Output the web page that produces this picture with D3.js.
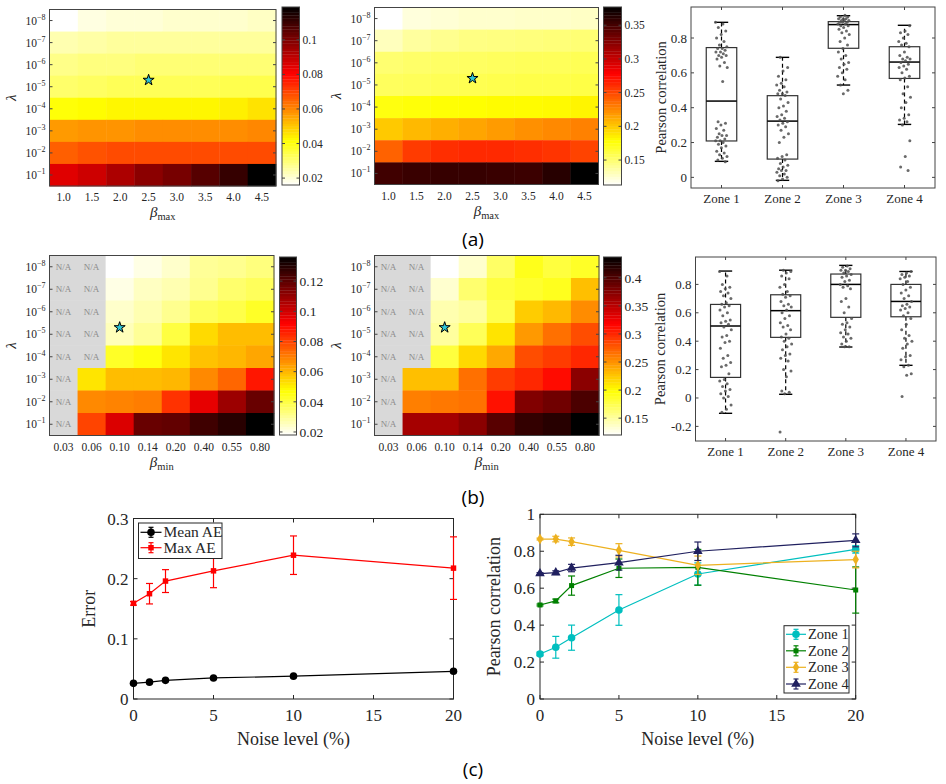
<!DOCTYPE html>
<html><head><meta charset="utf-8">
<script src="https://cdn.jsdelivr.net/npm/d3@7"></script>
<style>
body{margin:0;background:#fff}
svg{display:block}
text{font-family:"Liberation Serif","DejaVu Serif",serif;fill:#262626}
</style>
</head><body>
<svg id="c" width="946" height="784"></svg>
<script>
// ---------------- DATA ----------------
const lambdaExp = [-8,-7,-6,-5,-4,-3,-2,-1];
const betaMax = ["1.0","1.5","2.0","2.5","3.0","3.5","4.0","4.5"];
const betaMin = ["0.03","0.06","0.10","0.14","0.20","0.40","0.55","0.80"];
const starLambda = 5e-6;
const starBetaMax = "2.5";
const starBetaMin = "0.10";

const heatA1 = [
 [0.016,0.019,0.020,0.020,0.021,0.021,0.021,0.022],
 [0.024,0.025,0.026,0.026,0.026,0.026,0.026,0.026],
 [0.028,0.029,0.029,0.030,0.030,0.030,0.030,0.030],
 [0.031,0.032,0.033,0.033,0.033,0.033,0.034,0.034],
 [0.041,0.042,0.043,0.043,0.043,0.043,0.044,0.046],
 [0.057,0.058,0.058,0.059,0.059,0.059,0.059,0.060],
 [0.066,0.068,0.069,0.069,0.069,0.069,0.069,0.069],
 [0.085,0.088,0.093,0.098,0.101,0.106,0.111,0.119]];
const heatA2 = [
 [0.113,0.122,0.124,0.126,0.126,0.127,0.127,0.128],
 [0.130,0.138,0.142,0.145,0.146,0.147,0.148,0.149],
 [0.150,0.152,0.153,0.154,0.155,0.156,0.156,0.157],
 [0.155,0.156,0.157,0.158,0.159,0.160,0.160,0.161],
 [0.175,0.177,0.178,0.179,0.180,0.180,0.181,0.183],
 [0.200,0.206,0.210,0.214,0.218,0.222,0.225,0.228],
 [0.240,0.255,0.260,0.262,0.262,0.260,0.258,0.252],
 [0.352,0.355,0.356,0.356,0.355,0.354,0.362,0.377]];
const heatB1 = [
 [null,null,0.018,0.021,0.024,0.030,0.031,0.033],
 [null,null,0.021,0.025,0.027,0.031,0.035,0.037],
 [null,null,0.024,0.027,0.031,0.037,0.039,0.043],
 [null,null,0.026,0.030,0.040,0.054,0.059,0.059],
 [null,null,0.043,0.046,0.052,0.058,0.060,0.063],
 [null,0.052,0.059,0.059,0.060,0.068,0.074,0.088],
 [null,0.068,0.069,0.070,0.083,0.096,0.109,0.118],
 [null,0.080,0.098,0.118,0.119,0.125,0.129,0.136]];
const heatB2 = [
 [null,null,0.120,0.136,0.168,0.191,0.180,0.187],
 [null,null,0.135,0.165,0.180,0.185,0.190,0.229],
 [null,null,0.145,0.150,0.175,0.223,0.232,0.253],
 [null,null,0.150,0.172,0.212,0.247,0.266,0.282],
 [null,null,0.180,0.217,0.240,0.282,0.290,0.300],
 [null,0.229,0.229,0.266,0.290,0.300,0.313,0.372],
 [null,0.259,0.262,0.265,0.310,0.377,0.385,0.402],
 [null,0.360,0.360,0.372,0.396,0.413,0.419,0.437]];
const cbarA1Domain = [0.016,0.119], cbarA1Ticks = [0.02,0.04,0.06,0.08,0.1];
const cbarA2Domain = [0.113,0.377], cbarA2Ticks = [0.15,0.2,0.25,0.3,0.35];
const cbarB1Domain = [0.018,0.136], cbarB1Ticks = [0.02,0.04,0.06,0.08,0.1,0.12];
const cbarB2Domain = [0.120,0.437], cbarB2Ticks = [0.15,0.2,0.25,0.3,0.35,0.4];

const zones = ["Zone 1","Zone 2","Zone 3","Zone 4"];
const statsA = [[0.092,0.209,0.438,0.745,0.890],[-0.017,0.105,0.323,0.469,0.689],[0.530,0.741,0.877,0.894,0.928],[0.304,0.568,0.662,0.750,0.873]];
const statsB = [[-0.108,0.145,0.507,0.659,0.894],[0.026,0.427,0.615,0.727,0.900],[0.359,0.568,0.800,0.873,0.934],[0.230,0.572,0.680,0.800,0.891]];
const ptsA1 = [0.89,0.88,0.86,0.84,0.82,0.80,0.78,0.76,0.75,0.74,0.74,0.73,0.72,0.72,0.71,0.70,0.70,0.69,0.68,0.66,0.64,0.63,0.55,0.32,0.31,0.30,0.28,0.27,0.25,0.24,0.24,0.23,0.22,0.21,0.21,0.20,0.19,0.18,0.17,0.15,0.14,0.13,0.12,0.11,0.10,0.09];
const ptsA2 = [0.69,0.63,0.61,0.58,0.56,0.54,0.53,0.52,0.50,0.49,0.48,0.48,0.47,0.45,0.43,0.41,0.40,0.38,0.36,0.35,0.34,0.33,0.32,0.31,0.30,0.29,0.27,0.25,0.23,0.20,0.13,0.12,0.11,0.10,0.08,0.07,0.06,0.05,0.04,0.04,0.03,0.02,0.01,0.00,-0.01,-0.02];
const ptsA3 = [0.93,0.92,0.92,0.91,0.91,0.91,0.90,0.90,0.90,0.89,0.89,0.89,0.88,0.88,0.87,0.87,0.86,0.85,0.84,0.83,0.82,0.80,0.78,0.76,0.74,0.72,0.70,0.68,0.66,0.65,0.63,0.62,0.60,0.58,0.56,0.53,0.50,0.48];
const ptsA4 = [0.87,0.84,0.83,0.82,0.80,0.78,0.77,0.76,0.75,0.72,0.70,0.69,0.68,0.68,0.67,0.66,0.65,0.64,0.63,0.62,0.60,0.58,0.57,0.56,0.52,0.48,0.46,0.43,0.40,0.36,0.34,0.33,0.32,0.30,0.21,0.12,0.06,0.04];
const ptsB1 = [0.89,0.86,0.80,0.78,0.77,0.75,0.74,0.72,0.70,0.67,0.66,0.65,0.64,0.62,0.60,0.58,0.55,0.54,0.53,0.52,0.50,0.48,0.44,0.43,0.40,0.39,0.35,0.30,0.28,0.25,0.23,0.22,0.17,0.13,0.12,0.10,0.08,0.06,0.05,0.03,0.01,0.00,-0.05,-0.08,-0.10];
const ptsB2 = [0.90,0.89,0.88,0.86,0.84,0.80,0.78,0.75,0.73,0.72,0.71,0.68,0.66,0.65,0.64,0.62,0.60,0.58,0.56,0.53,0.51,0.50,0.48,0.45,0.43,0.42,0.40,0.38,0.36,0.34,0.31,0.30,0.28,0.26,0.20,0.19,0.15,0.05,0.04,0.03,-0.24];
const ptsB3 = [0.93,0.92,0.91,0.90,0.90,0.89,0.88,0.87,0.86,0.85,0.83,0.82,0.80,0.79,0.78,0.77,0.70,0.68,0.64,0.60,0.56,0.53,0.52,0.50,0.48,0.46,0.45,0.43,0.42,0.40,0.38,0.36,0.36];
const ptsB4 = [0.89,0.88,0.87,0.86,0.85,0.84,0.82,0.80,0.78,0.76,0.74,0.72,0.70,0.68,0.66,0.65,0.64,0.63,0.62,0.60,0.58,0.56,0.52,0.48,0.44,0.42,0.40,0.38,0.35,0.30,0.29,0.27,0.23,0.22,0.17,0.16,0.01];
const boxTicksA = [0,0.2,0.4,0.6,0.8];
const boxTicksB = [-0.2,0,0.2,0.4,0.6,0.8];

const noise = [0,1,2,5,10,20];
const noiseTicks = [0,5,10,15,20];
const meanAE = [0.026,0.028,0.031,0.035,0.038,0.046];
const meanAEErr = [0.001,0.001,0.001,0.001,0.001,0.002];
const maxAE = [0.159,0.175,0.196,0.213,0.239,0.2175];
const maxAEErr = [0.003,0.017,0.019,0.028,0.032,0.052];
const errTicks = [0,0.1,0.2,0.3];
const corrZ1 = [0.244,0.280,0.332,0.482,0.677,0.810], errZ1 = [0.010,0.059,0.068,0.083,0.060,0.020];
const corrZ2 = [0.509,0.531,0.614,0.708,0.713,0.590], errZ2 = [0.005,0.010,0.052,0.050,0.097,0.125];
const corrZ3 = [0.866,0.866,0.852,0.805,0.724,0.755], errZ3 = [0.005,0.015,0.020,0.036,0.050,0.045];
const corrZ4 = [0.679,0.684,0.709,0.738,0.800,0.859], errZ4 = [0.005,0.010,0.020,0.040,0.050,0.035];
const corrTicks = [0,0.2,0.4,0.6,0.8,1];

// ---------------- HELPERS ----------------
const svg = d3.select("#c");
const FRAME = "#444";
function hot(f){
  const hh = 1 - Math.max(0, Math.min(1, f));
  const r = Math.min(1, hh/0.375);
  const g = Math.max(0, Math.min(1, (hh-0.375)/0.375));
  const b = Math.max(0, Math.min(1, (hh-0.75)/0.25));
  return "rgb(" + Math.round(r*255) + "," + Math.round(g*255) + "," + Math.round(b*255) + ")";
}
function fmt(v){ return (Math.round(v*1000)/1000).toString(); }
function ln(g,x1,y1,x2,y2,col,w,dash){
  const l = g.append("line").attr("x1",x1).attr("y1",y1).attr("x2",x2).attr("y2",y2)
    .attr("stroke",col).attr("stroke-width",w||1);
  if(dash) l.attr("stroke-dasharray",dash);
  return l;
}

function heatmap(o){
  const g = svg.append("g");
  const x = d3.scaleBand().domain(o.cols).range([o.x0,o.x1]);
  const y = d3.scaleLinear().domain([-8.5,-0.5]).range([o.y0,o.y1]);
  const c = d3.scaleLinear().domain(o.domain).range([0,1]).clamp(true);
  const cells = [];
  o.values.forEach(function(row,ri){ row.forEach(function(v,ci){ cells.push({e:lambdaExp[ri], b:o.cols[ci], v:v}); }); });
  g.selectAll("rect.cell").data(cells).join("rect")
    .attr("x",function(p){return x(p.b);}).attr("width",x.bandwidth()+0.4)
    .attr("y",function(p){return y(p.e-0.5);}).attr("height",function(p){return y(p.e+0.5)-y(p.e-0.5)+0.4;})
    .attr("fill",function(p){return p.v==null?"#d9d9d9":hot(c(p.v));});
  g.selectAll("text.na").data(cells.filter(function(p){return p.v==null;})).join("text")
    .attr("x",function(p){return x(p.b)+x.bandwidth()/2;}).attr("y",function(p){return y(p.e)+3;})
    .attr("text-anchor","middle").attr("font-size",9).style("fill","#8a8a8a").text("N/A");
  g.append("rect").attr("x",o.x0).attr("y",o.y0).attr("width",o.x1-o.x0).attr("height",o.y1-o.y0)
    .attr("fill","none").attr("stroke",FRAME).attr("stroke-width",1);
  lambdaExp.forEach(function(e){
    ln(g,o.x0,y(e),o.x0+3,y(e),FRAME,1);
    ln(g,o.x1,y(e),o.x1-3,y(e),FRAME,1);
    const t = g.append("text").attr("x",o.x0-4).attr("y",y(e)+4).attr("text-anchor","end").attr("font-size",11.5);
    t.append("tspan").text("10");
    t.append("tspan").attr("dy",-5).attr("font-size",8).text("\u2212"+(-e));
  });
  o.cols.forEach(function(b){
    g.append("text").attr("x",x(b)+x.bandwidth()/2).attr("y",o.y1+15).attr("text-anchor","middle")
      .attr("font-size",11.5).text(b);
  });
  g.append("path").attr("d",d3.symbol().type(d3.symbolStar).size(38)())
    .attr("transform","translate("+(x(o.starCol)+x.bandwidth()/2)+","+y(Math.log10(starLambda))+")")
    .attr("fill","#2fc6d6").attr("stroke","#000").attr("stroke-width",1);
  const xl = g.append("text").attr("x",(o.x0+o.x1)/2).attr("y",o.y1+31).attr("text-anchor","middle");
  xl.append("tspan").attr("font-size",15).attr("font-style","italic").text("\u03b2");
  xl.append("tspan").attr("font-size",10.5).attr("dy",3).text(o.sub);
  g.append("text").attr("transform","translate("+(o.x0-39)+","+((o.y0+o.y1)/2)+") rotate(-90)")
    .attr("text-anchor","middle").attr("dy",5).attr("font-size",15).attr("font-style","italic").text("\u03bb");
  const cy = d3.scaleLinear().domain(o.domain).range([o.cb.y1,o.cb.y0]);
  const steps = d3.range(64);
  const sh = (o.cb.y1-o.cb.y0)/64;
  g.selectAll("rect.cb").data(steps).join("rect")
    .attr("x",o.cb.x0).attr("width",o.cb.x1-o.cb.x0)
    .attr("y",function(i){return o.cb.y1-(i+1)*sh;}).attr("height",sh+0.3)
    .attr("fill",function(i){return hot((i+0.5)/64);});
  g.append("rect").attr("x",o.cb.x0).attr("y",o.cb.y0).attr("width",o.cb.x1-o.cb.x0).attr("height",o.cb.y1-o.cb.y0)
    .attr("fill","none").attr("stroke",FRAME).attr("stroke-width",1);
  o.cbTicks.forEach(function(t){
    ln(g,o.cb.x1,cy(t),o.cb.x1-3,cy(t),FRAME,1);
    ln(g,o.cb.x0,cy(t),o.cb.x0+3,cy(t),FRAME,1);
    g.append("text").attr("x",o.cb.x1+3).attr("y",cy(t)+o.cbFont*0.35).attr("font-size",o.cbFont).text(fmt(t));
  });
}

function boxplot(o){
  const g = svg.append("g");
  const x = d3.scaleLinear().domain([0.5,4.5]).range([o.x0,o.x1]);
  const y = d3.scaleLinear().domain(o.ydom).range([o.y1,o.y0]);
  g.append("rect").attr("x",o.x0).attr("y",o.y0).attr("width",o.x1-o.x0).attr("height",o.y1-o.y0)
    .attr("fill","none").attr("stroke",FRAME).attr("stroke-width",1);
  o.ticks.forEach(function(t){
    ln(g,o.x0,y(t),o.x0+3,y(t),FRAME,1);
    ln(g,o.x1,y(t),o.x1-3,y(t),FRAME,1);
    g.append("text").attr("x",o.x0-4).attr("y",y(t)+4.5).attr("text-anchor","end").attr("font-size",13).text(fmt(t));
  });
  zones.forEach(function(z,i){
    const cx = x(i+1);
    ln(g,cx,o.y1,cx,o.y1-3,FRAME,1);
    ln(g,cx,o.y0,cx,o.y0+3,FRAME,1);
    g.append("text").attr("x",cx).attr("y",o.y1+15).attr("text-anchor","middle").attr("font-size",13).text(z);
    const s = o.stats[i];
    const bw = x(1.25)-x(1), cw = x(1.11)-x(1);
    ln(g,cx,y(s[3]),cx,y(s[4]),"#000",1.2,"4,3");
    ln(g,cx,y(s[1]),cx,y(s[0]),"#000",1.2,"4,3");
    ln(g,cx-cw,y(s[0]),cx+cw,y(s[0]),"#000",1.4);
    ln(g,cx-cw,y(s[4]),cx+cw,y(s[4]),"#000",1.4);
    g.append("rect").attr("x",cx-bw).attr("width",2*bw).attr("y",y(s[3])).attr("height",y(s[1])-y(s[3]))
      .attr("fill","none").attr("stroke","#333").attr("stroke-width",1.2);
    ln(g,cx-bw,y(s[2]),cx+bw,y(s[2]),"#000",1.5);
    g.selectAll("circle.p"+i).data(o.pts[i]).join("circle")
      .attr("cx",function(v,j){return cx+6*(((j*0.6180339887+0.31*i)%1)*2-1);})
      .attr("cy",function(v){return y(v);}).attr("r",1.5).attr("fill","#505050").attr("opacity",0.85);
  });
  g.append("text").attr("transform","translate("+o.ylx+","+((o.y0+o.y1)/2)+") rotate(-90)")
    .attr("text-anchor","middle").attr("font-size",14.5).text("Pearson correlation");
}

function linechart(o){
  const g = svg.append("g");
  const x = d3.scaleLinear().domain([0,20]).range([o.x0,o.x1]);
  const y = d3.scaleLinear().domain(o.ydom).range([o.y1,o.y0]);
  g.append("rect").attr("x",o.x0).attr("y",o.y0).attr("width",o.x1-o.x0).attr("height",o.y1-o.y0)
    .attr("fill","none").attr("stroke","#262626").attr("stroke-width",1);
  noiseTicks.forEach(function(t){
    ln(g,x(t),o.y1,x(t),o.y1-4,"#262626",1);
    ln(g,x(t),o.y0,x(t),o.y0+4,"#262626",1);
    g.append("text").attr("x",x(t)).attr("y",o.y1+22).attr("text-anchor","middle").attr("font-size",17).text(t);
  });
  o.ticks.forEach(function(t){
    ln(g,o.x0,y(t),o.x0+4,y(t),"#262626",1);
    ln(g,o.x1,y(t),o.x1-4,y(t),"#262626",1);
    g.append("text").attr("x",o.x0-5).attr("y",y(t)+6).attr("text-anchor","end").attr("font-size",17).text(fmt(t));
  });
  const line = d3.line().x(function(v,i){return x(noise[i]);}).y(function(v){return y(v);});
  o.series.forEach(function(s){
    g.append("path").attr("d",line(s.v)).attr("fill","none").attr("stroke",s.color).attr("stroke-width",1.2);
    s.v.forEach(function(v,i){
      const e = s.e[i], xx = x(noise[i]);
      ln(g,xx,y(v-e),xx,y(v+e),s.color,1.2);
      ln(g,xx-3.5,y(v-e),xx+3.5,y(v-e),s.color,1.2);
      ln(g,xx-3.5,y(v+e),xx+3.5,y(v+e),s.color,1.2);
      g.append("path").attr("d",d3.symbol().type(s.sym).size(s.size)()).attr("transform","translate("+xx+","+y(v)+")").attr("fill",s.color);
    });
  });
  const L = o.legend;
  g.append("rect").attr("x",L.x0).attr("y",L.y0).attr("width",L.x1-L.x0).attr("height",L.y1-L.y0)
    .attr("fill","#fff").attr("stroke","#262626").attr("stroke-width",1);
  o.series.forEach(function(s,i){
    const ly = L.ys[i], lx0 = L.x0+2, lx1 = L.x0+L.lw, lm = (lx0+lx1)/2;
    ln(g,lx0,ly,lx1,ly,s.color,1.2);
    ln(g,lm,ly-5,lm,ly+5,s.color,1.2);
    ln(g,lm-2.5,ly-5,lm+2.5,ly-5,s.color,1.2);
    ln(g,lm-2.5,ly+5,lm+2.5,ly+5,s.color,1.2);
    g.append("path").attr("d",d3.symbol().type(s.sym).size(s.size)()).attr("transform","translate("+lm+","+ly+")").attr("fill",s.color);
    g.append("text").attr("x",lx1+2).attr("y",ly+5).attr("font-size",L.font).text(s.name);
  });
  g.append("text").attr("x",(o.x0+o.x1)/2).attr("y",o.y1+46).attr("text-anchor","middle").attr("font-size",18).text("Noise level (%)");
  g.append("text").attr("transform","translate("+o.ylx+","+((o.y0+o.y1)/2)+") rotate(-90)")
    .attr("text-anchor","middle").attr("font-size",18).text(o.ylabel);
}

// ---------------- DRAW ----------------
heatmap({x0:49.5,x1:276,y0:9.5,y1:186,cols:betaMax,values:heatA1,domain:cbarA1Domain,
  cb:{x0:282,x1:299.5,y0:7,y1:185},cbTicks:cbarA1Ticks,cbFont:11.5,starCol:starBetaMax,sub:"max"});
heatmap({x0:374.5,x1:598.5,y0:7.5,y1:184.5,cols:betaMax,values:heatA2,domain:cbarA2Domain,
  cb:{x0:603.5,x1:621.5,y0:7,y1:185},cbTicks:cbarA2Ticks,cbFont:11.5,starCol:starBetaMax,sub:"max"});
heatmap({x0:49.5,x1:274,y0:255.5,y1:435.5,cols:betaMin,values:heatB1,domain:cbarB1Domain,
  cb:{x0:279.5,x1:296.5,y0:257,y1:435},cbTicks:cbarB1Ticks,cbFont:13.5,starCol:starBetaMin,sub:"min"});
heatmap({x0:374.5,x1:599,y0:255.5,y1:435.5,cols:betaMin,values:heatB2,domain:cbarB2Domain,
  cb:{x0:603.5,x1:621.5,y0:257,y1:435},cbTicks:cbarB2Ticks,cbFont:13.5,starCol:starBetaMin,sub:"min"});

boxplot({x0:691,x1:935,y0:7,y1:188,ydom:[-0.061,0.978],ticks:boxTicksA,stats:statsA,pts:[ptsA1,ptsA2,ptsA3,ptsA4],ylx:666});
boxplot({x0:695.5,x1:936,y0:257,y1:441,ydom:[-0.303,0.993],ticks:boxTicksB,stats:statsB,pts:[ptsB1,ptsB2,ptsB3,ptsB4],ylx:665});

linechart({x0:133.5,x1:453.5,y0:518.5,y1:699,ydom:[0,0.3],ticks:errTicks,ylabel:"Error",ylx:95,
  series:[
    {name:"Mean AE",v:meanAE,e:meanAEErr,color:"#000",sym:d3.symbolCircle,size:45},
    {name:"Max AE",v:maxAE,e:maxAEErr,color:"#ff0000",sym:d3.symbolSquare,size:30}],
  legend:{x0:138.5,x1:222,y0:523,y1:558.5,ys:[532.3,547.7],lw:23,font:15.5}});
linechart({x0:540,x1:855.7,y0:514.3,y1:699,ydom:[0,1],ticks:corrTicks,ylabel:"Pearson correlation",ylx:500,
  series:[
    {name:"Zone 1",v:corrZ1,e:errZ1,color:"#00bfbf",sym:d3.symbolCircle,size:45},
    {name:"Zone 2",v:corrZ2,e:errZ2,color:"#008000",sym:d3.symbolSquare,size:25},
    {name:"Zone 3",v:corrZ3,e:errZ3,color:"#edb120",sym:d3.symbolDiamond,size:35},
    {name:"Zone 4",v:corrZ4,e:errZ4,color:"#20205f",sym:d3.symbolTriangle,size:40}],
  legend:{x0:784,x1:849,y0:625.7,y1:693,ys:[634.3,650.8,667.3,684],lw:22,font:14.5}});

[["(a)",239],["(b)",497],["(c)",769]].forEach(function(p){
  svg.append("text").attr("x",473).attr("y",p[1]+7).attr("text-anchor","middle")
    .style("font-family","'Open Sans','Noto Sans',sans-serif").style("fill","#000").attr("font-size",19).text(p[0]);
});
</script>
</body></html>
